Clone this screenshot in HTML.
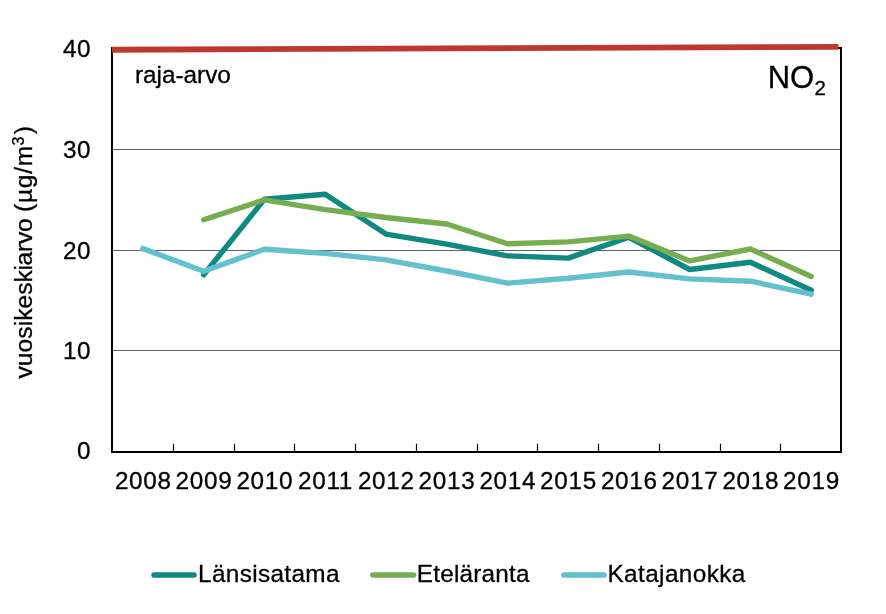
<!DOCTYPE html>
<html><head><meta charset="utf-8"><title>NO2</title>
<style>
html,body{margin:0;padding:0;background:#fff;}
svg{display:block;}
text{font-family:"Liberation Sans",Arial,sans-serif;font-size:24.3px;fill:#000;stroke:#000;stroke-width:0.3px;}
</style></head><body>
<svg width="886" height="614" viewBox="0 0 886 614">
<rect width="886" height="614" fill="#fff"/>
<line x1="113" x2="840" y1="149.5" y2="149.5" stroke="#5f5f5f" stroke-width="1"/><line x1="113" x2="840" y1="250.5" y2="250.5" stroke="#5f5f5f" stroke-width="1"/><line x1="113" x2="840" y1="350.5" y2="350.5" stroke="#5f5f5f" stroke-width="1"/>
<line x1="173.5" x2="173.5" y1="443.7" y2="451.5" stroke="#000" stroke-width="1.2"/><line x1="234.5" x2="234.5" y1="443.7" y2="451.5" stroke="#000" stroke-width="1.2"/><line x1="294.5" x2="294.5" y1="443.7" y2="451.5" stroke="#000" stroke-width="1.2"/><line x1="355.5" x2="355.5" y1="443.7" y2="451.5" stroke="#000" stroke-width="1.2"/><line x1="416.5" x2="416.5" y1="443.7" y2="451.5" stroke="#000" stroke-width="1.2"/><line x1="477.5" x2="477.5" y1="443.7" y2="451.5" stroke="#000" stroke-width="1.2"/><line x1="537.5" x2="537.5" y1="443.7" y2="451.5" stroke="#000" stroke-width="1.2"/><line x1="598.5" x2="598.5" y1="443.7" y2="451.5" stroke="#000" stroke-width="1.2"/><line x1="659.5" x2="659.5" y1="443.7" y2="451.5" stroke="#000" stroke-width="1.2"/><line x1="720.5" x2="720.5" y1="443.7" y2="451.5" stroke="#000" stroke-width="1.2"/><line x1="780.5" x2="780.5" y1="443.7" y2="451.5" stroke="#000" stroke-width="1.2"/>
<rect x="112" y="48" width="729" height="404" fill="none" stroke="#000" stroke-width="2"/>
<path d="M203.7,274.8 L264.4,199.3 L325.2,194.3 L385.9,234.1 L446.7,244.1 L507.4,255.9 L568.2,258.1 L628.9,237.3 L689.7,269.5 L750.4,262.2 L811.2,290.3" fill="none" stroke="#0f8982" stroke-width="5.4" stroke-linecap="round" stroke-linejoin="round"/><path d="M203.7,219.7 L264.4,199.8 L325.2,209.6 L385.9,217.5 L446.7,224.0 L507.4,243.8 L568.2,241.9 L628.9,236.1 L689.7,260.9 L750.4,249.0 L811.2,276.5" fill="none" stroke="#76ad50" stroke-width="5.4" stroke-linecap="round" stroke-linejoin="round"/><path d="M142.9,248.6 L203.7,271.3 L264.4,249.2 L325.2,253.4 L385.9,259.9 L446.7,271.0 L507.4,283.2 L568.2,278.3 L628.9,272.0 L689.7,278.9 L750.4,281.2 L811.2,294.2" fill="none" stroke="#63c0cd" stroke-width="5.4" stroke-linecap="round" stroke-linejoin="round"/>
<line x1="112" y1="49.75" x2="838.4" y2="46.8" stroke="#bf382e" stroke-width="5.8" stroke-linecap="butt"/>
<g><text transform="translate(91.14999999999999 56.5) scale(1 1)" text-anchor="end" style="font-size:24.3px;letter-spacing:0.55px;">40</text><text transform="translate(91.14999999999999 157.5) scale(1 1)" text-anchor="end" style="font-size:24.3px;letter-spacing:0.55px;">30</text><text transform="translate(91.14999999999999 258.5) scale(1 1)" text-anchor="end" style="font-size:24.3px;letter-spacing:0.55px;">20</text><text transform="translate(91.14999999999999 358.6) scale(1 1)" text-anchor="end" style="font-size:24.3px;letter-spacing:0.55px;">10</text><text transform="translate(91.14999999999999 459.2) scale(1 1)" text-anchor="end" style="font-size:24.3px;letter-spacing:0.55px;">0</text></g>
<g><text transform="translate(143.3 489.4) scale(1 1)" text-anchor="middle" style="font-size:24.3px;letter-spacing:0.69px;">2008</text><text transform="translate(204.0 489.4) scale(1 1)" text-anchor="middle" style="font-size:24.3px;letter-spacing:0.69px;">2009</text><text transform="translate(264.8 489.4) scale(1 1)" text-anchor="middle" style="font-size:24.3px;letter-spacing:0.69px;">2010</text><text transform="translate(325.5 489.4) scale(1 1)" text-anchor="middle" style="font-size:24.3px;letter-spacing:0.69px;">2011</text><text transform="translate(386.3 489.4) scale(1 1)" text-anchor="middle" style="font-size:24.3px;letter-spacing:0.69px;">2012</text><text transform="translate(447.0 489.4) scale(1 1)" text-anchor="middle" style="font-size:24.3px;letter-spacing:0.69px;">2013</text><text transform="translate(507.8 489.4) scale(1 1)" text-anchor="middle" style="font-size:24.3px;letter-spacing:0.69px;">2014</text><text transform="translate(568.5 489.4) scale(1 1)" text-anchor="middle" style="font-size:24.3px;letter-spacing:0.69px;">2015</text><text transform="translate(629.3 489.4) scale(1 1)" text-anchor="middle" style="font-size:24.3px;letter-spacing:0.69px;">2016</text><text transform="translate(690.0 489.4) scale(1 1)" text-anchor="middle" style="font-size:24.3px;letter-spacing:0.69px;">2017</text><text transform="translate(750.8 489.4) scale(1 1)" text-anchor="middle" style="font-size:24.3px;letter-spacing:0.69px;">2018</text><text transform="translate(811.5 489.4) scale(1 1)" text-anchor="middle" style="font-size:24.3px;letter-spacing:0.69px;">2019</text></g>
<text x="135" y="82.5" style="font-size:24.3px">raja-arvo</text>
<text x="767.7" y="88.3" style="font-size:31px">NO<tspan style="font-size:20.5px" dx="0.2" dy="6.5">2</tspan></text>
<text transform="translate(31.7,378.6) rotate(-90)" dx="0 0 0 0 0 0 0 0 -0.3 -0.3 -0.4 -0.4 -0.3 -0.3 -0.3 -0.3 0.65 0.65 0.65 0.65" style="font-size:24.6px;letter-spacing:0.07px">vuosikeskiarvo (µg/m<tspan style="font-size:16px" dy="-7.8">3</tspan><tspan dx="2.4" dy="7.8">)</tspan></text>
<g fill="none" stroke-width="5.5" stroke-linecap="round">
<line x1="154" x2="194" y1="574.9" y2="574.9" stroke="#0f8982"/>
<line x1="372.8" x2="413.6" y1="574.9" y2="574.9" stroke="#76ad50"/>
<line x1="563.9" x2="604" y1="574.9" y2="574.9" stroke="#63c0cd"/>
</g>
<text transform="translate(198.0 582.3) scale(1 1)" style="font-size:24.3px;letter-spacing:0.37px;">Länsisatama</text>
<text transform="translate(416.8 582.3) scale(1 1)" style="font-size:24.3px;letter-spacing:0.21px;">Eteläranta</text>
<text transform="translate(607.4 582.3) scale(1 1)" style="font-size:24.3px;letter-spacing:0.42px;">Katajanokka</text>
</svg>
</body></html>
